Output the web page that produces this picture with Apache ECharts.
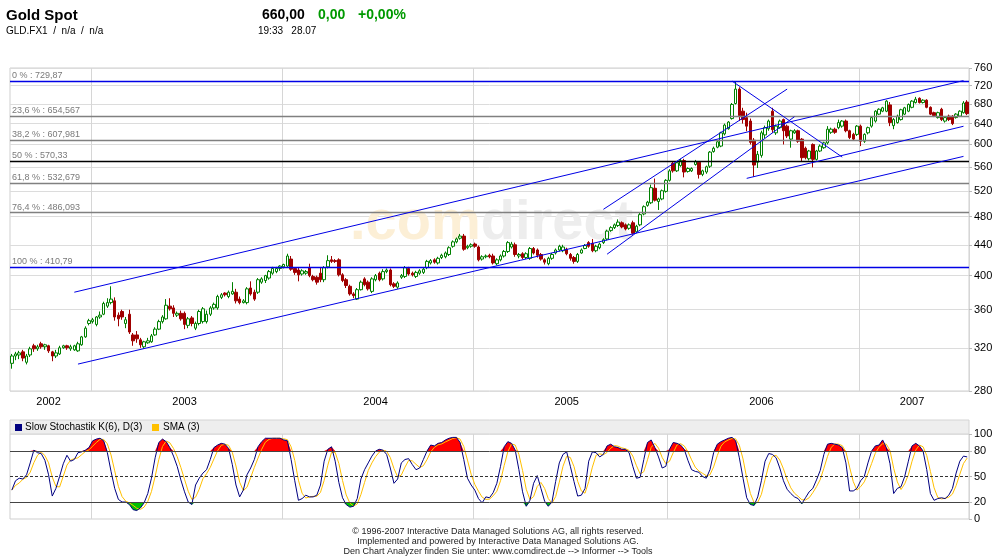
<!DOCTYPE html>
<html>
<head>
<meta charset="utf-8">
<title>Gold Spot</title>
<script src="https://cdn.jsdelivr.net/npm/echarts@6.0.0/dist/echarts.min.js"></script>
<style>
  html, body { margin: 0; padding: 0; background: #fff; }
  #chart { width: 996px; height: 558px; }
</style>
</head>
<body>
<div id="chart"></div>
<script>
// weekly candles, Aug 2002 .. Jul 2007: [open, close, low, high]
var weeklyCandles = [
  [305,312,300,314],[312,314,308,316],[313,315,309,317],[316,310,307,318],[306,312,304,314],[313,319,311,321],[322,319,316,324],[319,321,317,323],
  [324,321,319,326],[321,323,318,324],[322,317,315,323],[316,312,307,317],[312,315,310,318],[314,320,313,322],[320,322,319,323],[322,320,318,323],
  [319,321,317,323],[318,322,317,323],[317,324,316,326],[323,331,322,332],[331,340,330,342],[345,348,343,350],[347,349,345,351],[344,352,342,353],
  [352,354,350,358],[355,367,354,369],[364,368,362,373],[368,372,366,387],[370,352,348,374],[354,350,342,357],[358,352,349,360],[345,349,340,352],
  [355,336,334,360],[333,327,322,335],[333,329,325,337],[328,323,320,330],[321,326,319,327],[325,327,324,330],[326,332,325,334],[333,339,332,341],
  [339,347,338,349],[347,352,345,354],[350,365,349,372],[364,361,359,373],[362,356,352,365],[354,356,352,358],[356,350,348,359],[356,344,339,358],
  [343,350,340,352],[351,345,342,353],[340,345,338,347],[345,358,343,360],[347,361,345,363],[347,355,345,359],[355,362,353,364],[362,366,360,368],
  [362,375,360,377],[374,377,372,379],[379,377,375,380],[375,380,373,382],[378,381,377,392],[380,370,367,384],[372,368,366,375],[368,370,367,372],
  [368,384,366,386],[385,378,376,393],[380,372,370,383],[380,395,378,397],[392,396,390,398],[394,400,391,401],[397,405,395,407],[403,409,401,411],
  [405,409,403,411],[409,412,406,413],[411,414,409,415],[412,425,410,428],[421,408,406,425],[409,404,401,410],[407,401,393,410],[402,406,400,408],
  [403,405,401,407],[410,400,398,415],[399,395,393,401],[398,392,389,400],[403,395,392,410],[395,410,392,412],[411,419,409,426],[420,418,416,425],
  [419,418,416,421],[420,401,399,422],[401,394,392,403],[395,388,385,397],[387,378,376,389],[378,376,373,380],[372,383,371,385],[383,392,382,394],
  [396,389,387,398],[392,384,382,394],[381,396,379,398],[395,400,393,402],[403,395,393,405],[396,405,394,408],[405,407,403,409],[407,389,387,409],
  [390,387,385,392],[386,391,384,393],[398,400,396,402],[399,410,397,412],[409,402,400,411],[403,401,399,405],[399,404,397,406],[403,406,401,408],
  [404,408,402,410],[410,418,408,420],[416,419,414,421],[420,417,415,422],[416,422,414,424],[423,426,421,428],[424,429,422,431],[427,436,425,438],
  [438,444,436,446],[444,448,442,450],[449,452,447,455],[452,434,432,455],[436,438,434,440],[438,440,436,442],[441,438,436,443],[437,420,418,439],
  [421,424,419,426],[424,425,422,427],[426,424,422,428],[425,416,414,428],[415,420,413,422],[420,425,418,427],[425,431,423,433],[431,443,429,445],
  [437,441,435,444],[440,427,424,443],[425,427,422,429],[428,423,421,430],[423,428,421,430],[422,435,420,437],[435,429,427,437],[433,426,423,435],
  [427,421,419,429],[420,417,414,422],[415,422,413,424],[422,427,420,429],[429,433,427,435],[433,438,431,440],[432,437,430,440],[434,428,426,436],
  [427,422,419,429],[423,418,415,425],[418,427,416,429],[429,433,428,435],[435,439,434,441],[443,438,436,445],[442,432,430,448],[432,438,430,440],
  [436,441,434,443],[443,447,441,449],[448,459,446,461],[460,464,458,466],[464,468,462,470],[467,472,465,476],[471,465,463,473],[468,462,460,470],
  [463,468,461,470],[471,456,454,474],[458,466,456,468],[468,483,466,486],[484,495,482,497],[497,502,495,504],[501,525,499,530],[524,505,503,540],
  [503,507,490,509],[507,520,505,522],[519,537,517,539],[537,553,535,556],[566,553,550,570],[553,567,551,569],[562,571,560,574],[571,551,542,574],
  [552,557,550,559],[553,557,551,559],[564,569,562,572],[568,547,540,570],[547,553,544,555],[551,560,548,562],[561,586,558,588],[587,593,585,596],
  [595,605,593,607],[597,622,595,624],[620,637,617,640],[630,643,628,645],[650,679,648,682],[681,712,679,730],[712,656,645,716],[665,648,640,672],
  [652,635,625,662],[645,604,600,650],[608,563,543,612],[568,582,558,588],[580,622,576,626],[618,632,612,636],[630,645,626,648],[665,628,622,672],
  [622,635,618,638],[632,645,630,648],[648,626,600,650],[635,616,612,638],[610,626,594,628],[622,626,620,629],[626,606,603,628],[610,576,570,612],
  [593,576,573,596],[574,588,571,590],[600,573,559,602],[573,588,571,590],[588,597,586,600],[594,603,592,605],[603,629,600,635],[623,629,620,632],
  [629,623,620,632],[632,642,629,648],[635,645,632,647],[645,626,623,648],[626,613,610,628],[619,610,607,622],[619,635,616,637],[635,606,597,638],
  [606,619,603,621],[622,632,619,634],[635,652,632,654],[645,665,642,667],[659,669,657,671],[665,672,663,674],[665,686,663,688],[678,642,635,684],
  [636,648,629,651],[642,655,640,658],[648,668,646,670],[659,672,657,674],[665,679,663,681],[673,686,671,688],[683,690,681,695],[692,683,681,694],
  [683,688,681,690],[688,673,671,690],[673,659,657,675],[662,656,653,664],[652,662,650,664],[669,648,645,672],[645,652,642,654],[655,648,645,658],
  [655,640,637,657],[652,659,650,661],[655,665,653,667],[662,682,660,686],[684,660,657,688]
];

// Slow Stochastik K(6), one value per week
var stochK = [
  34,45,48,47,52,66,81,78,77,69, 52,27,36,50,65,75,68,70,78,79,
  81,84,92,94,95,92,78,56,36,23, 20,20,17,11,10,13,19,30,48,72,
  90,94,91,84,74,62,46,32,20,17, 40,48,54,58,70,84,87,89,88,83,
  64,40,26,34,52,60,70,85,91,95, 95,95,95,95,93,92,70,45,22,24,
  28,26,26,28,40,68,82,85,68,43, 25,17,14,15,24,47,58,66,74,80,
  82,81,76,60,42,47,66,70,71,64, 58,60,70,80,87,86,89,90,93,95,
  96,96,90,70,48,40,34,24,19,26, 25,31,42,62,85,91,89,81,58,32,
  15,22,42,51,36,21,15,20,44,66, 76,79,62,44,27,28,36,68,79,78,
  73,76,86,88,85,84,82,82,78,62, 48,49,70,90,93,84,73,60,62,82,
  90,89,87,82,69,58,56,55,50,48, 58,78,88,91,93,95,96,92,72,48,
  25,17,16,26,45,68,77,76,72,60, 45,35,30,26,24,18,25,32,36,46,
  57,76,88,89,88,87,84,66,33,33, 36,45,50,66,80,86,87,93,84,65,
  30,36,38,50,68,86,89,86,80,58, 30,22,24,25,24,28,36,54,68,74,73
];

var firstWeek = Date.UTC(2002, 7, 2);
var yearLabelIndex = [10, 47, 99, 151, 204, 245];
var yearLabelText = ['2002', '2003', '2004', '2005', '2006', '2007'];
var yearStartIndex = [22, 74, 126, 179, 231];
var priceTicks = [280, 320, 360, 400, 440, 480, 520, 560, 600, 640, 680, 720, 760];
var stochTicks = [0, 20, 50, 80, 100];

var fibLevels = [729.87, 654.567, 607.981, 570.33, 532.679, 486.093, 410.79];
var fibNames = ['0 % : 729,87', '23,6 % : 654,567', '38,2 % : 607,981', '50 % : 570,33',
  '61,8 % : 532,679', '76,4 % : 486,093', '100 % : 410,79'];

// trend lines: [[week, price], [week, price]]
var trendLines = [
  [[17, 380], [259, 731]],
  [[18, 304.3], [259, 578.3]],
  [[200, 540.3], [259, 634.7]],
  [[161, 491], [211, 712]],
  [[162, 427.4], [213, 653.8]],
  [[196, 730], [226, 577]]
];

var weekLabels = weeklyCandles.map(function (_, i) {
  var d = new Date(firstWeek + i * 7 * 86400000);
  return d.toISOString().slice(0, 10);
});
var candleData = weeklyCandles.map(function (c) { return [c[0], c[1], c[2], c[3]]; });

// D(3) is the 3-week simple average of K, as the legend says
var stochD = stochK.map(function (v, i) {
  var s = stochK.slice(Math.max(0, i - 2), i + 1);
  return s.reduce(function (a, b) { return a + b; }, 0) / s.length;
});
var overBought = stochK.map(function (v) { return Math.max(v, 80); });
var overSold = stochK.map(function (v) { return Math.min(v, 20); });

var font = 'Liberation Sans, Arial, sans-serif';
var blue = '#0000e6';

var fibMarks = fibLevels.map(function (v, i) {
  var col = '#808080';
  if (i === 0 || i === fibLevels.length - 1) col = blue;
  if (i === 3) col = '#000000';
  return {
    yAxis: v,
    lineStyle: { color: col, width: 1.3, type: 'solid' },
    label: {
      show: true, position: 'insideStartTop', formatter: fibNames[i],
      color: '#7a7a7a', fontSize: 9, fontFamily: font, distance: [2, 1]
    }
  };
});
var trendMarks = trendLines.map(function (t) {
  return [
    { coord: t[0], lineStyle: { color: blue, width: 1, type: 'solid' }, label: { show: false } },
    { coord: t[1] }
  ];
});

var chart = echarts.init(document.getElementById('chart'), null, { renderer: 'canvas' });
chart.setOption({
  animation: false,
  backgroundColor: '#ffffff',
  textStyle: { fontFamily: font },
  grid: [
    { left: 10, right: 27, top: 68, height: 323, show: true, borderColor: '#cfcfcf', borderWidth: 1, backgroundColor: 'transparent' },
    { left: 10, right: 27, top: 434, height: 85, show: true, borderColor: '#cfcfcf', borderWidth: 1, backgroundColor: 'transparent' }
  ],
  xAxis: [
    {
      type: 'category', gridIndex: 0, data: weekLabels, boundaryGap: true,
      axisLine: { show: false }, axisTick: { show: false },
      axisLabel: {
        interval: function (i) { return yearLabelIndex.indexOf(i) >= 0; },
        formatter: function (v, i) { return yearLabelText[yearLabelIndex.indexOf(i)]; },
        color: '#000', fontSize: 11, margin: 5
      },
      splitLine: {
        show: true,
        interval: function (i) { return yearStartIndex.indexOf(i) >= 0; },
        lineStyle: { color: '#d6d6d6', width: 1 }
      }
    },
    {
      type: 'category', gridIndex: 1, data: weekLabels, boundaryGap: true,
      axisLine: { show: false }, axisTick: { show: false }, axisLabel: { show: false },
      splitLine: {
        show: true,
        interval: function (i) { return yearStartIndex.indexOf(i) >= 0; },
        lineStyle: { color: '#d6d6d6', width: 1 }
      }
    }
  ],
  yAxis: [
    {
      type: 'log', logBase: 10, gridIndex: 0, min: 280, max: 760, position: 'right',
      axisLine: { show: false },
      axisTick: { show: true, length: 3, customValues: priceTicks, lineStyle: { color: '#bbbbbb' } },
      axisLabel: { customValues: priceTicks, color: '#000', fontSize: 11, margin: 5 },
      splitLine: { show: true, lineStyle: { color: '#dcdcdc', width: 1 } }
    },
    {
      type: 'value', gridIndex: 1, min: 0, max: 100, position: 'right',
      axisLine: { show: false },
      axisTick: { show: true, length: 3, customValues: stochTicks, lineStyle: { color: '#bbbbbb' } },
      axisLabel: { customValues: stochTicks, color: '#000', fontSize: 11, margin: 5 },
      splitLine: { show: false }
    }
  ],
  graphic: [
    { type: 'text', left: 350, top: 196, z: 1, silent: true,
      style: { text: '{a|.com}{b|direct}', rich: {
        a: { fill: '#fcefd6', font: 'bold 56px ' + font },
        b: { fill: '#ededed', font: 'bold 56px ' + font } } } },
    { type: 'text', z: 10, style: { x: 6, y: 16, text: 'Gold Spot', font: 'bold 15px ' + font, fill: '#000', verticalAlign: 'middle' } },
    { type: 'text', z: 10, style: { x: 6, y: 31.5, text: 'GLD.FX1  /  n/a  /  n/a', font: '10px ' + font, fill: '#000', verticalAlign: 'middle' } },
    { type: 'text', z: 10, style: { x: 262, y: 15, text: '660,00', font: 'bold 14px ' + font, fill: '#000', verticalAlign: 'middle' } },
    { type: 'text', z: 10, style: { x: 318, y: 15, text: '0,00', font: 'bold 14px ' + font, fill: '#009900', verticalAlign: 'middle' } },
    { type: 'text', z: 10, style: { x: 358, y: 15, text: '+0,00%', font: 'bold 14px ' + font, fill: '#009900', verticalAlign: 'middle' } },
    { type: 'text', z: 10, style: { x: 258, y: 31.5, text: '19:33   28.07', font: '10px ' + font, fill: '#000', verticalAlign: 'middle' } },
    { type: 'rect', z: 10, shape: { x: 10, y: 420, width: 959, height: 14 }, style: { fill: '#eeeeee', stroke: '#d4d4d4' } },
    { type: 'rect', z: 11, shape: { x: 15, y: 424, width: 7, height: 7 }, style: { fill: '#000080' } },
    { type: 'text', z: 11, style: { x: 25, y: 427.5, text: 'Slow Stochastik K(6), D(3)', font: '10px ' + font, fill: '#000', verticalAlign: 'middle' } },
    { type: 'rect', z: 11, shape: { x: 152, y: 424, width: 7, height: 7 }, style: { fill: '#ffc000' } },
    { type: 'text', z: 11, style: { x: 163, y: 427.5, text: 'SMA (3)', font: '10px ' + font, fill: '#000', verticalAlign: 'middle' } },
    { type: 'text', z: 10, style: { x: 498, y: 532, text: '\u00a9 1996-2007 Interactive Data Managed Solutions AG, all rights reserved.', font: '9px ' + font, fill: '#222', align: 'center', verticalAlign: 'middle' } },
    { type: 'text', z: 10, style: { x: 498, y: 542, text: 'Implemented and powered by Interactive Data Managed Solutions AG.', font: '9px ' + font, fill: '#222', align: 'center', verticalAlign: 'middle' } },
    { type: 'text', z: 10, style: { x: 498, y: 552, text: 'Den Chart Analyzer finden Sie unter: www.comdirect.de --> Informer --> Tools', font: '9px ' + font, fill: '#222', align: 'center', verticalAlign: 'middle' } }
  ],
  series: [
    {
      name: 'Gold Spot', type: 'candlestick', xAxisIndex: 0, yAxisIndex: 0,
      data: candleData, barWidth: 3,
      itemStyle: { color: '#ffffff', color0: '#a00000', borderColor: '#008000', borderColor0: '#a00000', borderWidth: 1 },
      markLine: {
        silent: true, symbol: ['none', 'none'], animation: false, precision: 3,
        data: fibMarks.concat(trendMarks)
      }
    },
    {
      name: 'overbought', type: 'line', xAxisIndex: 1, yAxisIndex: 1, data: overBought,
      symbol: 'none', silent: true, z: 2,
      lineStyle: { width: 0, opacity: 0 },
      areaStyle: { color: '#ff0000', opacity: 1, origin: 80 }
    },
    {
      name: 'oversold', type: 'line', xAxisIndex: 1, yAxisIndex: 1, data: overSold,
      symbol: 'none', silent: true, z: 2,
      lineStyle: { width: 0, opacity: 0 },
      areaStyle: { color: '#00c000', opacity: 1, origin: 20 }
    },
    {
      name: 'SMA (3)', type: 'line', xAxisIndex: 1, yAxisIndex: 1, data: stochD,
      symbol: 'none', silent: true, z: 3,
      lineStyle: { color: '#ffc000', width: 1 }
    },
    {
      name: 'Slow Stochastik K(6)', type: 'line', xAxisIndex: 1, yAxisIndex: 1, data: stochK,
      symbol: 'none', silent: true, z: 4,
      lineStyle: { color: '#000080', width: 1 },
      markLine: {
        silent: true, symbol: ['none', 'none'], animation: false, label: { show: false },
        data: [
          { yAxis: 80, lineStyle: { color: '#444444', width: 1, type: 'solid' } },
          { yAxis: 20, lineStyle: { color: '#444444', width: 1, type: 'solid' } },
          { yAxis: 50, lineStyle: { color: '#333333', width: 1, type: [3, 2] } }
        ]
      }
    }
  ]
});
window.addEventListener('resize', function () { chart.resize(); });
</script>
</body>
</html>
